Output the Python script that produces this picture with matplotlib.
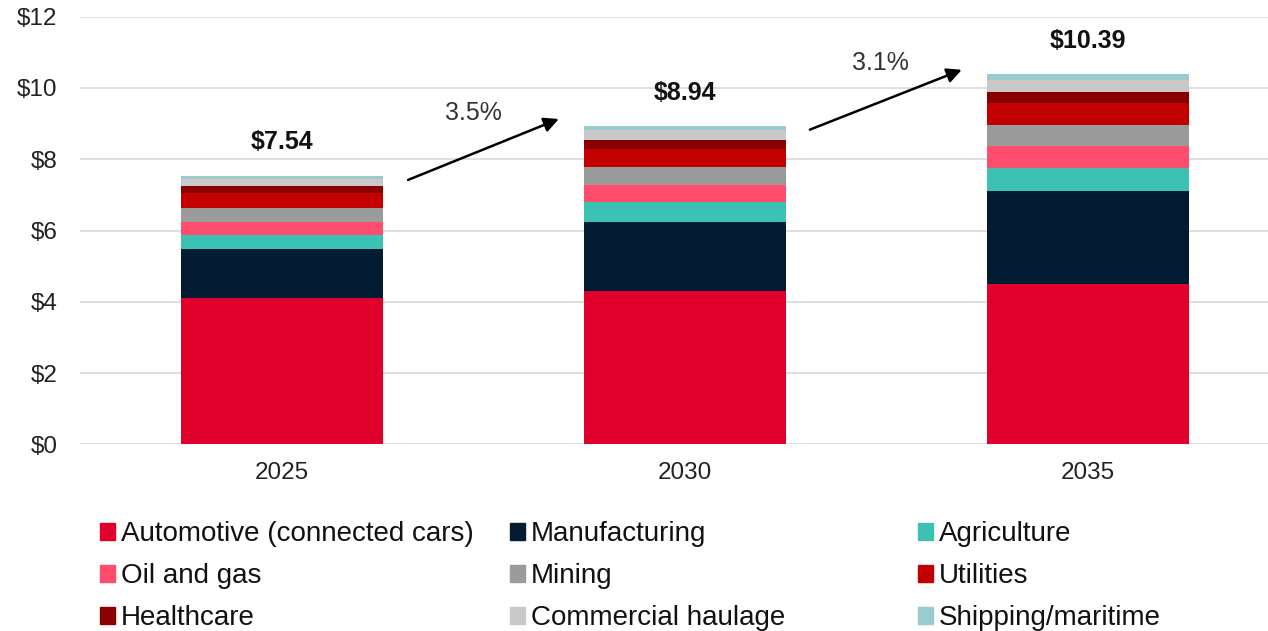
import numpy as np
import matplotlib.pyplot as plt
from matplotlib.patches import Patch

plt.rcParams['font.family'] = ['Liberation Sans', 'DejaVu Sans']

years = ["2025", "2030", "2035"]
totals = [7.54, 8.94, 10.39]
growth = ["3.5%", "3.1%"]

segments = ["Automotive (connected cars)", "Manufacturing", "Agriculture",
            "Oil and gas", "Mining", "Utilities", "Healthcare",
            "Commercial haulage", "Shipping/maritime"]
automotive = [4.10, 4.31, 4.50]
manufacturing = [1.38, 1.94, 2.60]
agriculture = [0.40, 0.55, 0.65]
oil_gas = [0.36, 0.48, 0.61]
mining = [0.39, 0.49, 0.61]
utilities = [0.42, 0.51, 0.61]
healthcare = [0.21, 0.26, 0.32]
haulage = [0.19, 0.28, 0.33]
shipping = [0.09, 0.12, 0.16]

colors = ["#E0002B", "#041C31", "#3CC2B3", "#FF4D6D", "#9B9B9B",
          "#C20000", "#8A0000", "#C9C9C9", "#9CCBCB"]

series = [automotive, manufacturing, agriculture, oil_gas, mining,
          utilities, healthcare, haulage, shipping]

fig = plt.figure(figsize=(12.68, 6.31), dpi=100)
ax = fig.add_axes([80.5 / 1268, 0.2959, 1 - 80.5 / 1268, 0.6776])

x = np.arange(len(years))
bottom = np.zeros(len(years))
for vals, col in zip(series, colors):
    ax.bar(x, vals, width=0.5, bottom=bottom, color=col, zorder=3)
    bottom += np.array(vals)

ax.set_xlim(-0.5, 2.447)
ax.set_ylim(0, 12)
ax.set_yticks(range(0, 13, 2))
ax.set_yticklabels(["$" + str(v) for v in range(0, 13, 2)])
ax.set_xticks(x)
ax.set_xticklabels(years)
ax.grid(axis="y", color="#D9D9D9", linewidth=1.2, zorder=0)
for s in ax.spines.values():
    s.set_visible(False)
ax.tick_params(axis="both", length=0, labelsize=17.5, colors="#222222")
ax.tick_params(axis="x", pad=13)
ax.tick_params(axis="y", pad=16.5)

# totals above the bars
for xi, t in zip(x, totals):
    ax.text(xi, t + 0.93, "$%.2f" % t, ha="center", va="center",
            fontsize=18, fontweight="bold", color="#111111")

# growth arrows
arrows = [((0.313, 7.42), (0.687, 9.13)), ((1.310, 8.83), (1.687, 10.51))]
label_pos = [(0.474, 9.31), (1.484, 10.71)]
for (tail, tip), g, lp in zip(arrows, growth, label_pos):
    ax.annotate("", xy=tip, xytext=tail,
                arrowprops=dict(arrowstyle="-|>", color="black", lw=1.8,
                                mutation_scale=22, shrinkA=0, shrinkB=0),
                zorder=5)
    ax.text(lp[0], lp[1], g, ha="center", va="center", fontsize=18,
            color="#333333")

# legend in three columns
cols = [[0, 3, 6], [1, 4, 7], [2, 5, 8]]
col_x = [100 / 1268, 510 / 1268, 918 / 1268]
for cx, idx in zip(col_x, cols):
    handles = [Patch(color=colors[i], label=segments[i]) for i in idx]
    leg = fig.legend(handles=handles, loc="upper left",
                     bbox_to_anchor=(cx, 1 - 521 / 631), frameon=False,
                     fontsize=20, handlelength=0.55, handleheight=0.55,
                     handletextpad=0.2, labelspacing=0.58,
                     borderaxespad=0, borderpad=0)
    for t in leg.get_texts():
        t.set_color("#111111")

fig.savefig("out.png", dpi=100)
